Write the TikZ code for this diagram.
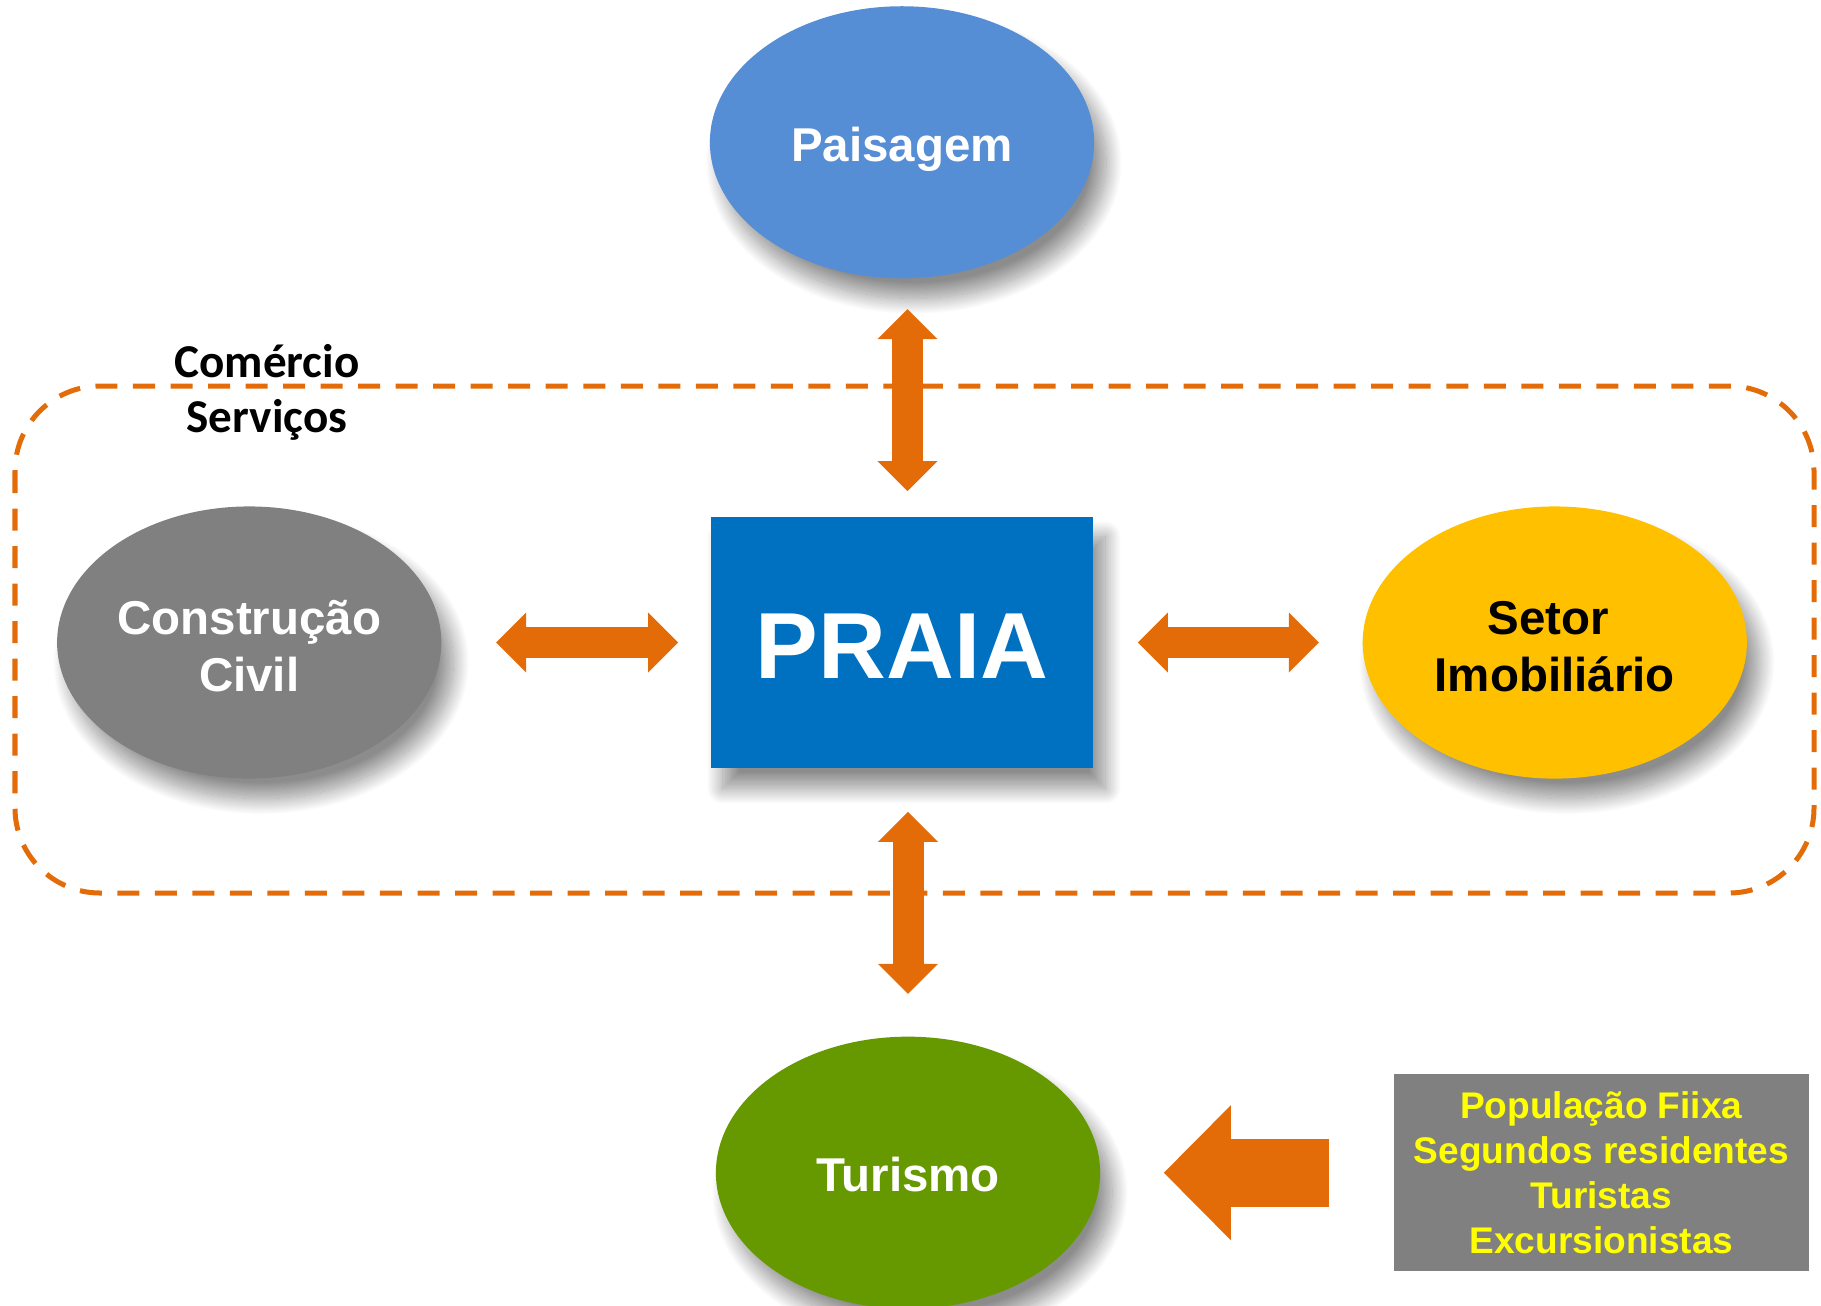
\documentclass[tikz,border=0pt]{standalone}
\usepackage{fontspec}
\setmainfont{Liberation Sans}
\newfontfamily\calibri{Carlito}
\usepackage{tikz}
\usetikzlibrary{arrows.meta}
\usetikzlibrary{positioning,shapes.geometric,shadows.blur}
\definecolor{laranja}{HTML}{E36C09}
\definecolor{azulclaro}{HTML}{558ED5}
\definecolor{azul}{HTML}{0070C0}
\definecolor{cinza}{HTML}{808080}
\definecolor{ouro}{HTML}{FFC000}
\definecolor{verde}{HTML}{669900}
\definecolor{amarelo}{HTML}{FFFF00}
\tikzset{
  %Define standard arrow tip
  >={Triangle[length=0.3cm,width=0.6cm,line width=0pt]},
  %Define shadow for the shapes
  sombra/.style={
    blur shadow={shadow xshift=0.12cm,shadow yshift=-0.2cm,
      shadow blur radius=0.16cm,shadow blur steps=30,shadow opacity=45}},
  %Define style for ellipses
  elipse/.style={
    ellipse,
    sombra,
    minimum width=3.84cm,
    minimum height=2.72cm,
    inner sep=0pt,
    text=white,
    align=center,
    text height=10.9pt,
    text depth=0pt,
    font=\bfseries\fontsize{13.5}{16.2}\selectfont},
  duaslinhas/.style={text height=28pt},
  %Define style for boxes
  caixa/.style={
    rectangle,
    inner sep=0pt,
    align=center},
  % Define arrow style
  seta/.style={
    <->,
    draw=laranja,
    line width=0.31cm},
  setagrande/.style={
    -{Triangle[length=0.67cm,width=1.35cm,line width=0pt]},
    draw=laranja,
    line width=0.68cm},
  moldura/.style={
    draw=laranja,
    line width=0.05cm,
    dash pattern=on 0.22cm off 0.155cm,
    rounded corners=0.85cm}
}

\begin{document}
\begin{tikzpicture}[x=0.01cm,y=-0.01cm]
  \useasboundingbox (0,0) rectangle (1821,1305);
  \draw[moldura] (15,386) rectangle (1814,893);
  \node[font=\calibri\bfseries\fontsize{13.4}{15.6}\selectfont,align=center]
    (comercio) at (267,392) {Comércio\\Serviços};
  \node[caixa,sombra,fill=azul,text=white,minimum width=3.82cm,minimum height=2.51cm,
    text height=20.4pt,text depth=0pt,
    font=\bfseries\fontsize{26.7}{32}\selectfont] (praia) at (902,642.5) {PRAIA};
  \node[elipse,fill=azulclaro,above=2.37cm of praia] (paisagem) {Paisagem};
  \node[elipse,duaslinhas,fill=cinza,left=2.68cm of praia] (construcao) {Construção\\Civil};
  \node[elipse,duaslinhas,fill=ouro,text=black,right=2.68cm of praia] (setor) {Setor\hspace*{0.28em}\\Imobiliário};
  \node[elipse,fill=verde,below=2.67cm of praia,xshift=0.06cm] (turismo) {Turismo};
  \node[caixa,fill=cinza,text=amarelo,minimum width=4.15cm,minimum height=1.97cm,
    font=\bfseries\fontsize{10.55}{12.8}\selectfont,right=2.92cm of turismo]
    (populacao) {População Fiixa\\Segundos residentes\\Turistas\\Excursionistas};
  \draw[seta,shorten <=0.25cm,shorten >=0.3cm]
    ([xshift=0.055cm]praia.north) -- ([xshift=0.055cm]praia.north |- paisagem.south);
  \draw[seta,shorten <=0.43cm,shorten >=0.42cm]
    (praia.south -| turismo.north) -- (turismo.north);
  \draw[seta,shorten <=0.54cm,shorten >=0.32cm] (construcao.east) -- (praia.west);
  \draw[seta,shorten <=0.44cm,shorten >=0.43cm] (praia.east) -- (setor.west);
  \draw[setagrande,shorten <=0.64cm,shorten >=0.63cm]
    (populacao.west) -- (populacao.west -| turismo.east);
\end{tikzpicture}
\end{document}
